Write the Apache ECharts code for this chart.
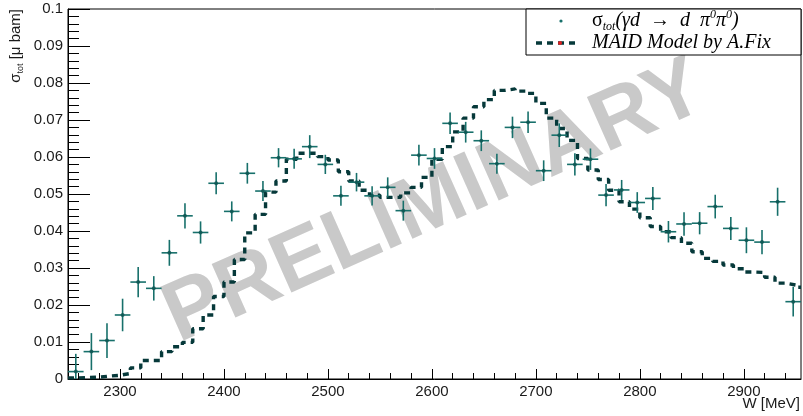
<!DOCTYPE html>
<html><head><meta charset="utf-8">
<script src="https://cdn.jsdelivr.net/npm/echarts@6/dist/echarts.min.js"></script>
<style>html,body{margin:0;padding:0;background:#fff}#c{width:803px;height:416px}</style>
</head><body><div id="c"></div>
<script>
// Measured data (W [MeV] bin centres, sigma_tot [µbarn], statistical error)
const dataW = [2257.5,2272.5,2287.5,2302.5,2317.5,2332.5,2347.5,2362.5,2377.5,2392.5,2407.5,2422.5,2437.5,2452.5,2467.5,2482.5,2497.5,2512.5,2527.5,2542.5,2557.5,2572.5,2587.5,2602.5,2617.5,2632.5,2647.5,2662.5,2677.5,2692.5,2707.5,2722.5,2737.5,2752.5,2767.5,2782.5,2797.5,2812.5,2827.5,2842.5,2857.5,2872.5,2887.5,2902.5,2917.5,2932.5,2947.5];
const dataSigma = [0.0020,0.0074,0.0104,0.0173,0.0262,0.0245,0.0341,0.0441,0.0396,0.0529,0.0453,0.0556,0.0508,0.0598,0.0595,0.0628,0.0580,0.0495,0.0532,0.0495,0.0518,0.0455,0.0605,0.0596,0.0691,0.0667,0.0644,0.0582,0.0680,0.0694,0.0563,0.0659,0.0580,0.0594,0.0497,0.0511,0.0477,0.0488,0.0398,0.0419,0.0421,0.0466,0.0407,0.0375,0.0370,0.0479,0.0209];
const dataErr = [0.0048,0.0050,0.0047,0.0044,0.0041,0.0033,0.0035,0.0034,0.0030,0.0030,0.0027,0.0028,0.0027,0.0026,0.0027,0.0031,0.0026,0.0027,0.0025,0.0026,0.0027,0.0027,0.0028,0.0028,0.0029,0.0028,0.0028,0.0027,0.0029,0.0029,0.0028,0.0032,0.0030,0.0029,0.0030,0.0027,0.0028,0.0031,0.0029,0.0032,0.0030,0.0032,0.0031,0.0035,0.0033,0.0038,0.0040];
const binHalfWidth = 7.5;

// MAID model (histogram bin lower edges and contents)
const modelW = [2250,2260,2270,2280,2290,2300,2310,2320,2330,2340,2350,2360,2370,2380,2390,2400,2410,2420,2430,2440,2450,2460,2470,2480,2490,2500,2510,2520,2530,2540,2550,2560,2570,2580,2590,2600,2610,2620,2630,2640,2650,2660,2670,2680,2690,2700,2710,2720,2730,2740,2750,2760,2770,2780,2790,2800,2810,2820,2830,2840,2850,2860,2870,2880,2890,2900,2910,2920,2930,2940,2950,2955];
const modelSigma = [0.0003,0.0004,0.0005,0.0008,0.0010,0.0015,0.0030,0.0050,0.0050,0.0074,0.0087,0.0099,0.0136,0.0173,0.0223,0.0262,0.0323,0.0395,0.0445,0.0505,0.0535,0.0594,0.0610,0.0610,0.0601,0.0592,0.0560,0.0535,0.0510,0.0497,0.0491,0.0491,0.0503,0.0518,0.0545,0.0594,0.0628,0.0668,0.0705,0.0736,0.0755,0.0780,0.0784,0.0778,0.0772,0.0745,0.0705,0.0677,0.0645,0.0596,0.0565,0.0539,0.0510,0.0479,0.0459,0.0436,0.0412,0.0398,0.0382,0.0367,0.0344,0.0326,0.0318,0.0308,0.0298,0.0289,0.0288,0.0275,0.0259,0.0254,0.0248,0.0248];

const xMajorTicks = [2300,2400,2500,2600,2700,2800,2900];
const xMinorTicks = [2260,2280,2320,2340,2360,2380,2420,2440,2460,2480,2520,2540,2560,2580,2620,2640,2660,2680,2720,2740,2760,2780,2820,2840,2860,2880,2920,2940];

const dataColor = '#17706b';
const modelColor = '#06393a';

const chart = echarts.init(document.getElementById('c'));
const pts = dataW.map((w,i)=>[w, dataSigma[i], dataErr[i]]);
const model = modelW.map((w,i)=>[w, modelSigma[i]]);

chart.setOption({
  animation:false,
  backgroundColor:'#fff',
  grid:{left:68,right:2,top:9,bottom:37,show:true,borderColor:'#000',borderWidth:1,backgroundColor:'transparent'},
  xAxis:[{
    type:'value',min:2250,max:2955,position:'bottom',
    axisLine:{onZero:false,lineStyle:{color:'#000',width:1}},
    axisTick:{inside:true,length:10,customValues:xMajorTicks,lineStyle:{color:'#000'}},
    axisLabel:{customValues:xMajorTicks,fontSize:15,color:'#1a1a1a',margin:5,fontFamily:'"Liberation Sans", Arial, sans-serif',
      formatter:v=>String(Math.round(v))},
    splitLine:{show:false}
  },{
    type:'value',min:2250,max:2955,position:'bottom',
    axisLine:{show:false},
    axisTick:{inside:true,length:6,customValues:xMinorTicks,lineStyle:{color:'#000'}},
    axisLabel:{show:false},splitLine:{show:false}
  }],
  yAxis:{
    type:'value',min:0,max:0.1,interval:0.01,
    axisLine:{show:true,onZero:false,lineStyle:{color:'#000',width:1}},
    axisTick:{show:true,inside:true,length:22,lineStyle:{color:'#000'}},
    minorTick:{show:true,splitNumber:5,length:11,lineStyle:{color:'#000'}},
    axisLabel:{fontSize:15,color:'#1a1a1a',margin:5,fontFamily:'"Liberation Sans", Arial, sans-serif',
      formatter:v=>v===0?'0':String(+v.toFixed(3))},
    splitLine:{show:false}
  },
  graphic:[
    {type:'text',z:0,zlevel:0,x:435,y:203,rotation:24*Math.PI/180,silent:true,
      style:{text:'PRELIMINARY',font:'bold 85px "Liberation Sans", Arial, sans-serif',fill:'#c9c9c9',align:'center',verticalAlign:'middle'}},
    {type:'rect',z:100,shape:{x:526,y:9,width:275,height:46},style:{fill:'#fff',stroke:'#000',lineWidth:1}},
    {type:'circle',z:101,shape:{cx:561,cy:21,r:1.6},style:{fill:dataColor}},
    {type:'text',z:101,x:592,y:21,style:{
      text:'{s|σ}{sub|tot}{t|(γd  →  d  π}{sup|0}{t|π}{sup|0}{t|)}',
      verticalAlign:'middle',align:'left',
      rich:{
        s:{fontFamily:'"Liberation Serif", serif',fontSize:20,lineHeight:24,fill:'#000'},
        sub:{fontFamily:'"Liberation Serif", serif',fontStyle:'italic',fontSize:12,lineHeight:12,verticalAlign:'bottom',fill:'#000'},
        t:{fontFamily:'"Liberation Serif", serif',fontStyle:'italic',fontSize:20,lineHeight:24,fill:'#000'},
        sup:{fontFamily:'"Liberation Serif", serif',fontStyle:'italic',fontSize:12,lineHeight:14,verticalAlign:'top',fill:'#000'}
      }}},
    {type:'line',z:101,shape:{x1:536,y1:43,x2:580,y2:43},style:{stroke:modelColor,lineWidth:3.5,lineDash:[6,5]}},
    {type:'circle',z:102,shape:{cx:560,cy:43,r:2},style:{fill:'#e02020'}},
    {type:'text',z:101,x:592,y:43,style:{text:'MAID Model by A.Fix',font:'italic 20px "Liberation Serif", serif',fill:'#000',verticalAlign:'middle',align:'left'}},
    {type:'text',z:101,x:800,y:404,style:{text:'W [MeV]',font:'15px "Liberation Sans", Arial, sans-serif',fill:'#1a1a1a',align:'right',verticalAlign:'middle'}},
    {type:'text',z:101,x:16,y:9,rotation:Math.PI/2,style:{
      text:'{a|σ}{b|tot}{a| [μ bam]}',align:'right',verticalAlign:'middle',
      rich:{a:{fontFamily:'"Liberation Sans", Arial, sans-serif',fontSize:15,lineHeight:18,fill:'#1a1a1a'},
            b:{fontFamily:'"Liberation Sans", Arial, sans-serif',fontSize:9,lineHeight:9,verticalAlign:'bottom',fill:'#1a1a1a'}}}}
  ],
  series:[
    {type:'line',data:model,step:'end',showSymbol:false,z:3,
      lineStyle:{color:modelColor,width:3.4,type:[6,5],cap:'butt'}},
    {type:'custom',data:pts,z:4,
      renderItem:function(params,api){
        const x=api.value(0), y=api.value(1), e=api.value(2);
        const pl=api.coord([x-binHalfWidth,y]), pr=api.coord([x+binHalfWidth,y]);
        const pt=api.coord([x,Math.min(0.1,y+e)]), pb=api.coord([x,Math.max(0,y-e)]);
        const st={stroke:dataColor,lineWidth:1.6};
        return {type:'group',children:[
          {type:'line',shape:{x1:pl[0],y1:pl[1],x2:pr[0],y2:pr[1]},style:st},
          {type:'line',shape:{x1:pt[0],y1:pt[1],x2:pb[0],y2:pb[1]},style:st}
        ]};
      }},
    {type:'scatter',data:pts.map(p=>[p[0],p[1]]),symbol:'circle',symbolSize:4,z:5,
      itemStyle:{color:'#0c5450'}}
  ]
});
</script></body></html>
